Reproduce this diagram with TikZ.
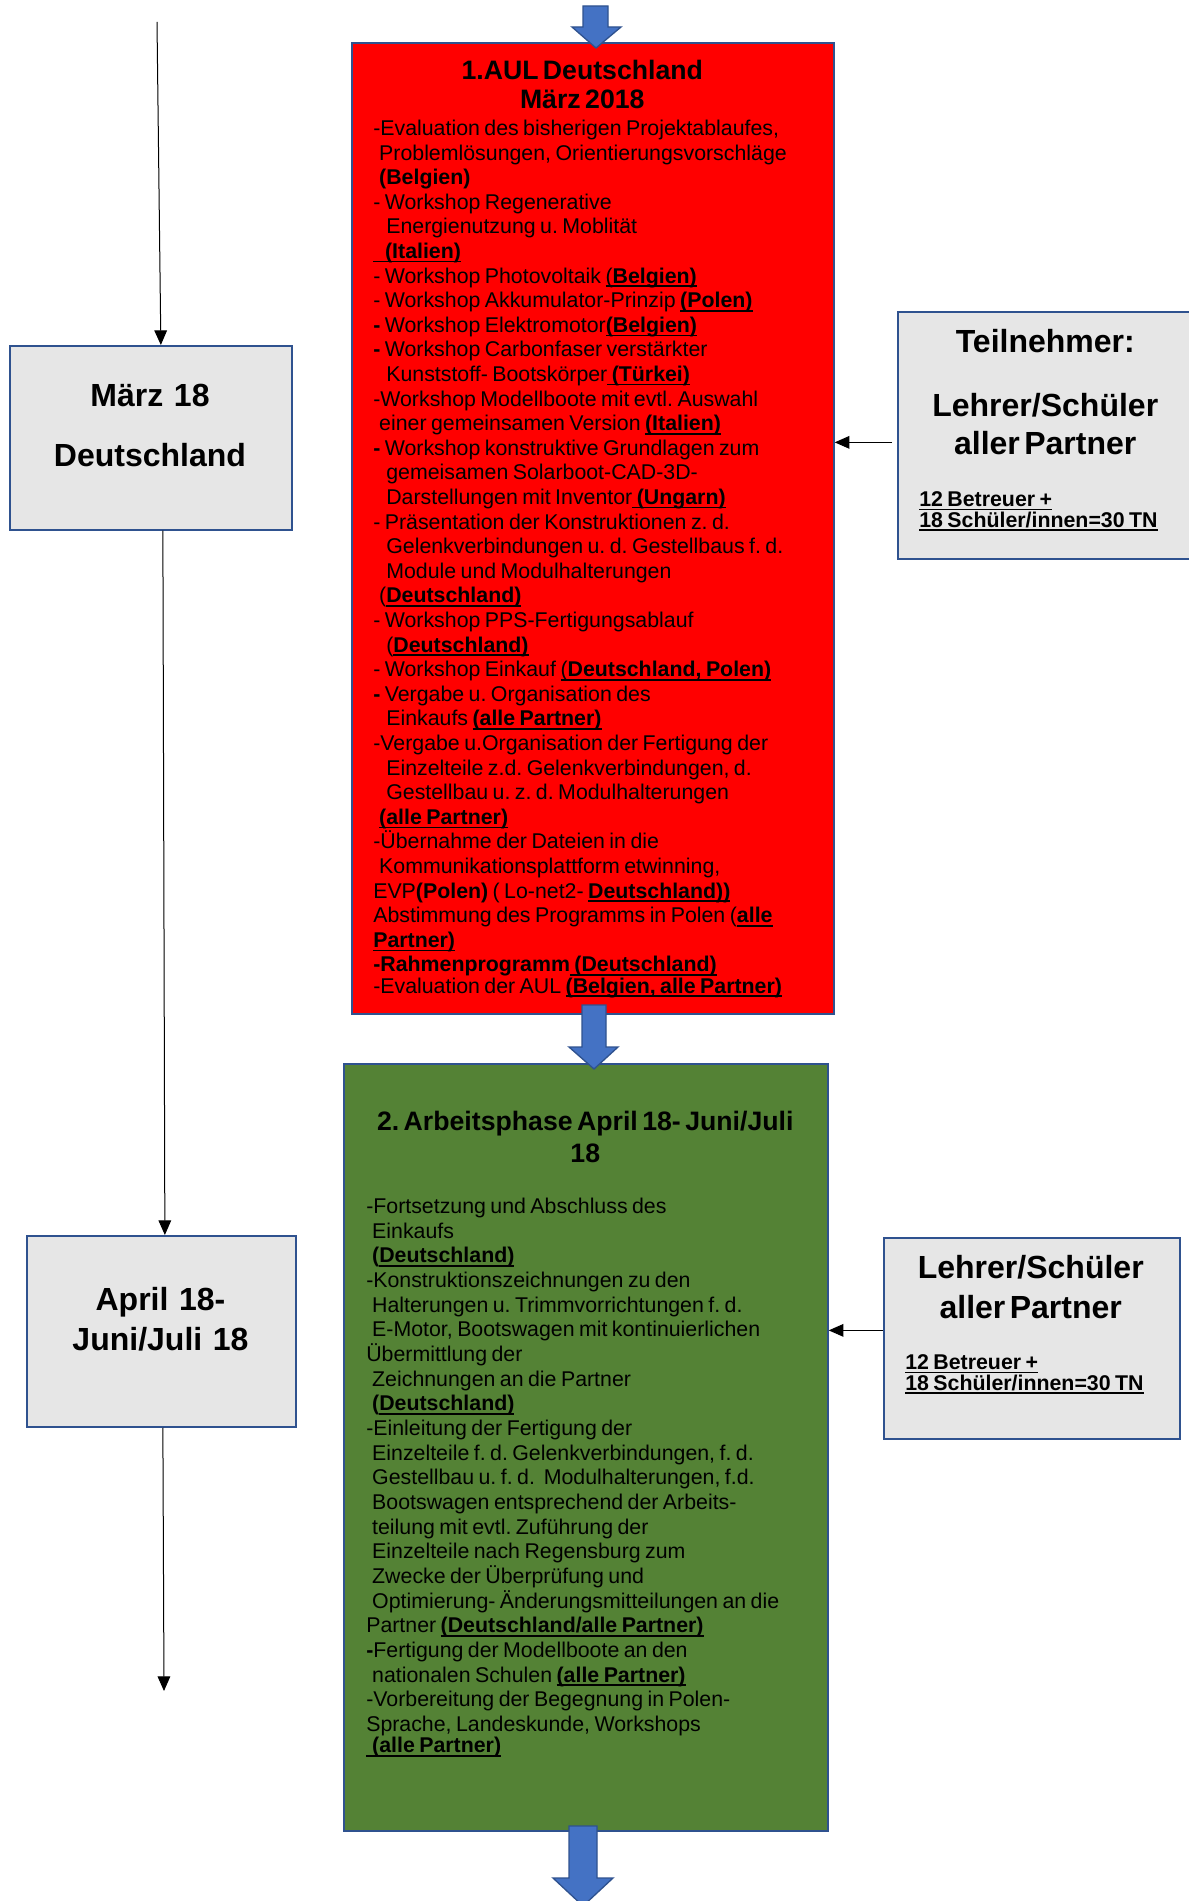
\documentclass[tikz,border=0pt]{standalone}
\usepackage{fontspec}
\setmainfont{Liberation Sans}
\usetikzlibrary{arrows.meta,calc}
\frenchspacing
\newlength\px \setlength\px{0.75pt}
\definecolor{rahmen}{HTML}{2F528F}
\definecolor{pfeil}{HTML}{4472C4}
\definecolor{gruen}{HTML}{548235}
\definecolor{grau}{HTML}{E6E6E6}
\newcommand\ulb[1]{\leavevmode\setbox0\hbox{#1}\rlap{\rule[-2.9pt]{\wd0}{1.3pt}}\box0}
\newcommand\ia{\hspace*{.278em}}
\newcommand\ib{\hspace*{.611em}}
\tikzset{box/.style={draw=rahmen, line width=1.3pt, inner sep=0pt, anchor=north west}}
\tikzset{txt/.style={inner sep=0pt, anchor=north west, text width=#1, align=left,
  execute at begin node={\parindent=0pt\parskip=0pt}}}
\tikzset{datum/.style={inner sep=0pt, anchor=north, text width=#1, align=center,
  execute at begin node={\parindent=0pt\parskip=0pt}}}
\tikzset{blk/.style={fill=pfeil, draw=rahmen, line width=1pt}}
\tikzset{conn/.style={line width=0.75pt, -{Triangle[length=11pt,width=9.5pt]}}}

\begin{document}
\begin{tikzpicture}[x=0.75pt, y=-0.75pt]
\useasboundingbox (0,0) rectangle (1188,1901);
\node[box, fill=red, minimum width=482\px, minimum height=971\px] (aul) at (351,42) {};
\node[box, fill=gruen, minimum width=484\px, minimum height=767\px] (arb) at (343,1063) {};
\node[box, fill=grau, minimum width=282\px, minimum height=184\px] (mar) at (9,345) {};
\node[box, fill=grau, minimum width=269\px, minimum height=191\px] (apr) at (26,1235) {};
\node[box, fill=grau, minimum width=300\px, minimum height=247\px] (tn1) at (897,311) {};
\node[box, fill=grau, minimum width=296\px, minimum height=201\px] (tn2) at (883,1237) {};

\node[datum=282\px, font=\fontsize{24pt}{45pt}\selectfont\bfseries] (martxt) at (150,384) {März 18\\Deutschland};
\node[datum=269\px, font=\fontsize{24pt}{30pt}\selectfont\bfseries] (aprtxt) at (160.5,1287) {April 18-\\Juni/Juli 18};

\node[txt=300\px] (tn1txt) at (919,329) {%
\fontsize{24pt}{28.5pt}\selectfont\bfseries
\hbox to 252\px{\hfil Teilnehmer:\hfil}\par
\vskip 19.5pt
\hbox to 252\px{\hfil Lehrer/Schüler\hfil}\par
\hbox to 252\px{\hfil aller Partner\hfil}\par
\fontsize{16pt}{17.6pt}\selectfont
\vskip 21.4pt
\ulb{12 Betreuer +}\\
\ulb{18 Schüler/innen=30 TN}};

\node[txt=300\px] (tn2txt) at (905,1255) {%
\fontsize{24pt}{30pt}\selectfont\bfseries
\hbox to 251\px{\hfil Lehrer/Schüler\hfil}\par
\hbox to 251\px{\hfil aller Partner\hfil}\par
\fontsize{16pt}{18pt}\selectfont
\vskip 20.25pt
\ulb{12 Betreuer +}\\
\ulb{18 Schüler/innen=30 TN}};

\node[txt=480\px] (aultxt) at (373,60) {%
\fontsize{20pt}{21.75pt}\selectfont\bfseries
\hbox to 418\px{\hfil 1.AUL Deutschland\hfil}\par
\hbox to 418\px{\hfil März 2018\hfil}\par
\fontsize{16pt}{18.45pt}\selectfont\mdseries
\vskip 1.8pt
-Evaluation des bisherigen Projektablaufes,\\
\ia Problemlösungen, Orientierungsvorschläge\\
\ia\textbf{(Belgien)}\\
- Workshop Regenerative\\
\ib Energienutzung u. Moblität\\
\ulb{\ia\ia\textbf{(Italien)}}\\
- Workshop Photovoltaik \ulb{(\textbf{Belgien)}}\\
- Workshop Akkumulator-Prinzip \ulb{\textbf{(Polen)}}\\
\textbf{-} Workshop Elektromotor\ulb{\textbf{(Belgien)}}\\
\textbf{-} Workshop Carbonfaser verstärkter\\
\ib Kunststoff- Bootskörper\ulb{\ \textbf{(Türkei)}}\\
-Workshop Modellboote mit evtl. Auswahl\\
\ia einer gemeinsamen Version \ulb{\textbf{(Italien)}}\\
\textbf{-} Workshop konstruktive Grundlagen zum\\
\ib gemeisamen Solarboot-CAD-3D-\\
\ib Darstellungen mit Inventor\ulb{\ \textbf{(Ungarn)}}\\
- Präsentation der Konstruktionen z. d.\\
\ib Gelenkverbindungen u. d. Gestellbaus f. d.\\
\ib Module und Modulhalterungen\\
\ia(\ulb{\textbf{Deutschland)}}\\
- Workshop PPS-Fertigungsablauf\\
\ib(\ulb{\textbf{Deutschland)}}\\
- Workshop Einkauf \ulb{(\textbf{Deutschland, Polen)}}\\
\textbf{-} Vergabe u. Organisation des\\
\ib Einkaufs \ulb{\textbf{(alle Partner)}}\\
-Vergabe u.Organisation der Fertigung der\\
\ib Einzelteile z.d. Gelenkverbindungen, d.\\
\ib Gestellbau u. z. d. Modulhalterungen\\
\ia\ulb{\textbf{(alle Partner)}}\\
-Übernahme der Dateien in die\\
\ia Kommunikationsplattform etwinning,\\
EVP\textbf{(Polen)} ( Lo-net2- \ulb{\textbf{Deutschland))}}\\
Abstimmung des Programms in Polen (\ulb{\textbf{alle}}\\
\ulb{\textbf{Partner)}}\\
\textbf{-Rahmenprogramm}\ulb{\textbf{\ (Deutschland)}}\\
-Evaluation der AUL \ulb{\textbf{(Belgien, alle Partner)}}};

\node[txt=500\px] (arbtxt) at (366,1111) {%
\fontsize{20pt}{24pt}\selectfont\bfseries
\hbox to 438\px{\hfil 2. Arbeitsphase April 18- Juni/Juli\hfil}\par
\hbox to 438\px{\hfil 18\hfil}\par
\fontsize{16pt}{18.5pt}\selectfont\mdseries
\vskip 19.75pt
-Fortsetzung und Abschluss des\\
\ia Einkaufs\\
\ia\textbf{(}\ulb{\textbf{Deutschland)}}\\
-Konstruktionszeichnungen zu den\\
\ia Halterungen u. Trimmvorrichtungen f. d.\\
\ia E-Motor, Bootswagen mit kontinuierlichen\\
Übermittlung der\\
\ia Zeichnungen an die Partner\\
\ia\textbf{(}\ulb{\textbf{Deutschland)}}\\
-Einleitung der Fertigung der\\
\ia Einzelteile f. d. Gelenkverbindungen, f. d.\\
\ia Gestellbau u. f. d.\ \ Modulhalterungen, f.d.\\
\ia Bootswagen entsprechend der Arbeits-\\
\ia teilung mit evtl. Zuführung der\\
\ia Einzelteile nach Regensburg zum\\
\ia Zwecke der Überprüfung und\\
\ia Optimierung- Änderungsmitteilungen an die\\
Partner \ulb{\textbf{(Deutschland/alle Partner)}}\\
\textbf{-}Fertigung der Modellboote an den\\
\ia nationalen Schulen \ulb{\textbf{(alle Partner)}}\\
-Vorbereitung der Begegnung in Polen-\\
Sprache, Landeskunde, Workshops\\
\ulb{\ia\textbf{(alle Partner)}}};

\draw[blk] (583,6) -- (608,6) -- (608,27) -- (621,27) -- (596,48) -- (572,27) -- (583,27) -- cycle;
\draw[blk] (582,1005) -- (606,1005) -- (606,1047) -- (618,1047) -- (594,1069) -- (569,1047) -- (582,1047) -- cycle;
\draw[blk] (569,1826) -- (597,1826) -- (597,1878) -- (613,1878) -- (583,1906) -- (553,1878) -- (569,1878) -- cycle;

\coordinate (start) at (157,22);
\coordinate (ende) at (164,1691);
\draw[conn] (start) -- ([xshift=10\px]mar.north);
\draw[conn] ([xshift=12\px]mar.south) -- ([xshift=3.5\px]apr.north);
\draw[conn] ([xshift=1.5\px]apr.south) -- (ende);
\coordinate (c1) at ([shift={(-5,7)}]tn1.west);
\coordinate (c2) at ([shift={(0,-8)}]tn2.west);
\draw[conn] (c1) -- (c1 -| aul.east);
\draw[conn] (c2) -- (c2 -| arb.east);
\end{tikzpicture}
\end{document}
